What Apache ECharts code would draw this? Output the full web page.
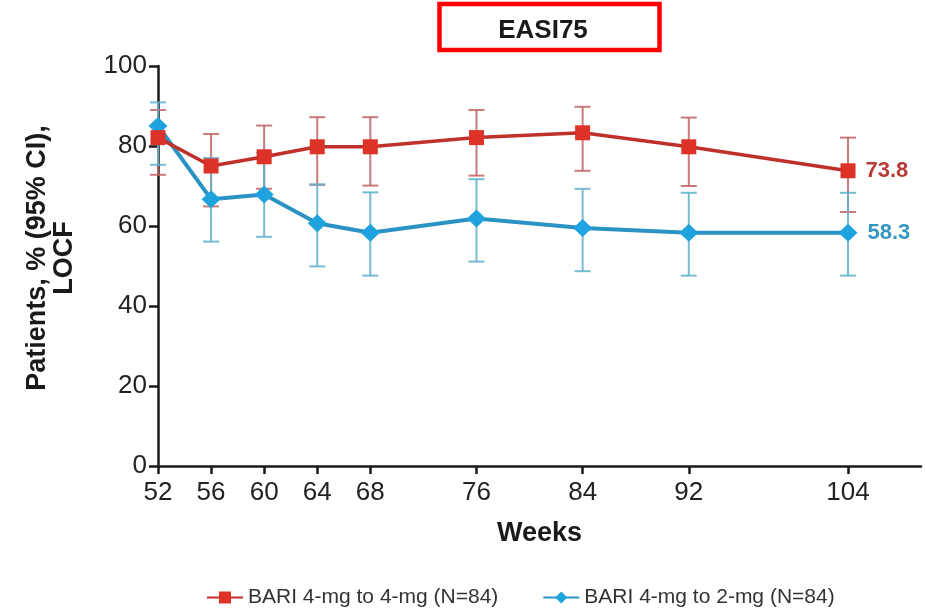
<!DOCTYPE html>
<html>
<head>
<meta charset="utf-8">
<script src="https://cdn.jsdelivr.net/npm/echarts@6/dist/echarts.min.js"></script>
<style>
  html, body { margin: 0; padding: 0; background: #ffffff; }
  #chart { width: 925px; height: 608px; }
</style>
</head>
<body>
<div id="chart"></div>
<script>
// Study weeks on the x axis
var weeks = [52, 56, 60, 64, 68, 76, 84, 92, 104];

// BARI 4-mg to 4-mg: response rate with 95% CI
var bari44 = [82.1, 75.0, 77.3, 79.8, 79.8, 82.1, 83.3, 79.8, 73.8];
var bari44Low = [72.8, 64.9, 69.3, 70.3, 70.1, 72.6, 73.8, 70.0, 63.5];
var bari44High = [89.0, 83.0, 85.1, 87.2, 87.2, 89.0, 89.8, 87.1, 82.1];

// BARI 4-mg to 2-mg: response rate with 95% CI
var bari42 = [85.0, 66.7, 67.9, 60.7, 58.3, 61.9, 59.5, 58.3, 58.3];
var bari42Low = [75.3, 56.1, 57.3, 49.9, 47.6, 51.1, 48.7, 47.6, 47.6];
var bari42High = [90.9, 77.0, 78.3, 70.4, 68.4, 71.7, 69.3, 68.3, 68.3];

var yTicks = [0, 20, 40, 60, 80, 100];
var seriesNames = ['BARI 4-mg to 4-mg (N=84)', 'BARI 4-mg to 2-mg (N=84)'];

var RED_LINE = '#c0302a', RED_MARK = '#dc3227', RED_CI = 'rgba(192,100,100,0.85)', RED_TEXT = '#b83b35';
var BLUE_LINE = '#2b93c4', BLUE_MARK = '#1fa3de', BLUE_CI = 'rgba(95,176,205,0.85)', BLUE_TEXT = '#3596bf';
var FONT = '"Liberation Sans", Arial, sans-serif';

function ciData(xs, lo, hi) {
  return xs.map(function (x, i) { return [x, lo[i], hi[i]]; });
}
function errorBars(color) {
  return function (params, api) {
    var x = api.value(0);
    var lo = api.coord([x, api.value(1)]);
    var hi = api.coord([x, api.value(2)]);
    var cap = 8;
    var style = { stroke: color, lineWidth: 2 };
    return {
      type: 'group',
      children: [
        { type: 'line', shape: { x1: lo[0], y1: lo[1], x2: hi[0], y2: hi[1] }, style: style },
        { type: 'line', shape: { x1: lo[0] - cap, y1: lo[1], x2: lo[0] + cap, y2: lo[1] }, style: style },
        { type: 'line', shape: { x1: hi[0] - cap, y1: hi[1], x2: hi[0] + cap, y2: hi[1] }, style: style }
      ]
    };
  };
}
function lastLabel(values, color) {
  return values.map(function (v, i) {
    var item = { value: [weeks[i], v] };
    if (i === values.length - 1) {
      item.label = {
        show: true, position: 'right', distance: 10,
        formatter: String(v), color: color,
        fontFamily: FONT, fontWeight: 'bold', fontSize: 22
      };
    }
    return item;
  });
}

var chart = echarts.init(document.getElementById('chart'), null, { renderer: 'canvas' });

chart.setOption({
  backgroundColor: '#ffffff',
  animation: false,
  grid: { left: 158, right: 4, top: 66, bottom: 142 },
  graphic: [
    {
      type: 'rect',
      shape: { x: 439.5, y: 4, width: 220, height: 46 },
      style: { fill: '#ffffff', stroke: '#ff0000', lineWidth: 4.5 }
    },
    {
      type: 'text',
      x: 543, y: 31,
      style: {
        text: 'EASI75', fill: '#1a1a1a',
        font: 'bold 26px ' + FONT,
        textAlign: 'center', textVerticalAlign: 'middle'
      }
    },
    {
      type: 'text',
      x: 51, y: 258,
      rotation: Math.PI / 2,
      style: {
        text: 'Patients, % (95% CI),\nLOCF', fill: '#1a1a1a',
        font: 'bold 27px ' + FONT, lineHeight: 27,
        textAlign: 'center', textVerticalAlign: 'middle'
      }
    }
  ],
  legend: {
    left: 201, top: 582,
    itemWidth: 36, itemHeight: 15, itemGap: 44,
    textStyle: { fontFamily: FONT, fontSize: 21, color: '#333333' },
    data: seriesNames
  },
  xAxis: {
    type: 'value',
    min: 52, max: 109.5,
    name: 'Weeks',
    nameLocation: 'middle',
    nameGap: 54,
    nameTextStyle: { fontFamily: FONT, fontWeight: 'bold', fontSize: 27, color: '#1a1a1a' },
    axisLine: { show: true, lineStyle: { color: '#1a1a1a', width: 2.5 } },
    axisTick: { show: true, customValues: weeks, length: 8, lineStyle: { color: '#1a1a1a', width: 2.5 } },
    axisLabel: { customValues: weeks, margin: 14, fontFamily: FONT, fontSize: 26, color: '#222222' },
    splitLine: { show: false }
  },
  yAxis: {
    type: 'value',
    min: 0, max: 100, interval: 20,
    axisLine: { show: true, lineStyle: { color: '#1a1a1a', width: 2.5 } },
    axisTick: { show: true, customValues: yTicks, length: 9, lineStyle: { color: '#1a1a1a', width: 2.5 } },
    axisLabel: { customValues: yTicks, margin: 11, fontFamily: FONT, fontSize: 26, color: '#222222' },
    splitLine: { show: false }
  },
  series: [
    {
      type: 'custom', name: 'ci44', z: 1,
      renderItem: errorBars(RED_CI),
      encode: { x: 0, y: [1, 2] },
      data: ciData(weeks, bari44Low, bari44High)
    },
    {
      type: 'custom', name: 'ci42', z: 1,
      renderItem: errorBars(BLUE_CI),
      encode: { x: 0, y: [1, 2] },
      data: ciData(weeks, bari42Low, bari42High)
    },
    {
      type: 'line', name: seriesNames[1], z: 2,
      data: lastLabel(bari42, BLUE_TEXT),
      symbol: 'diamond', symbolSize: [19, 18],
      lineStyle: { color: BLUE_LINE, width: 4 },
      itemStyle: { color: BLUE_MARK },
      emphasis: { disabled: true }
    },
    {
      type: 'line', name: seriesNames[0], z: 3,
      data: lastLabel(bari44, RED_TEXT),
      symbol: 'rect', symbolSize: 15,
      lineStyle: { color: RED_LINE, width: 3.5 },
      itemStyle: { color: RED_MARK },
      emphasis: { disabled: true }
    }
  ]
});
</script>
</body>
</html>
